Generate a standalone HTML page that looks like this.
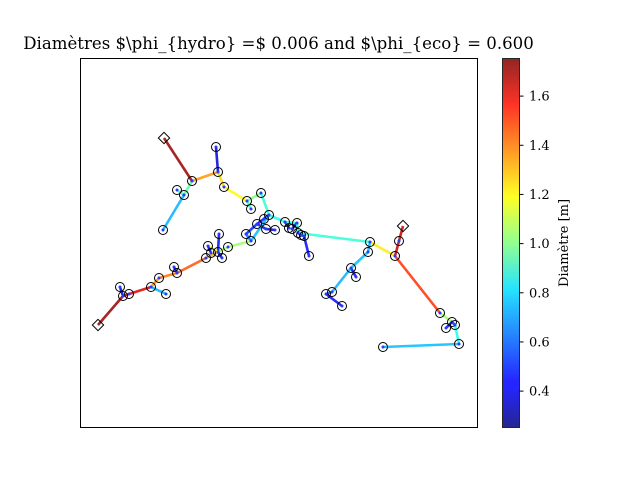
<!DOCTYPE html>
<html><head><meta charset="utf-8">
<style>
html,body{margin:0;padding:0;background:#fff;}
svg{display:block;font-family:"DejaVu Serif","Liberation Serif",serif;}
</style></head>
<body>
<svg id="chart" width="640" height="480" viewBox="0 0 640 480">
<defs>
<linearGradient id="jet" x1="0" y1="1" x2="0" y2="0">
<stop offset="0" stop-color="#00007f"/><stop offset="0.11" stop-color="#0000ff"/><stop offset="0.125" stop-color="#0000ff"/>
<stop offset="0.34" stop-color="#00c0ff"/><stop offset="0.375" stop-color="#00e0ff"/><stop offset="0.5" stop-color="#7fff7f"/>
<stop offset="0.625" stop-color="#ffff00"/><stop offset="0.66" stop-color="#ffe000"/><stop offset="0.875" stop-color="#ff1000"/><stop offset="1" stop-color="#7f0000"/>
</linearGradient>
</defs>
<text x="278.5" y="49" text-anchor="middle" font-size="16.6">Diamètres $\phi_{hydro} =$ 0.006 and $\phi_{eco} = 0.600</text>
<rect x="80.5" y="58.5" width="397" height="369" fill="none" stroke="#000" stroke-width="1"/>
<g id="edges"></g>
<g id="nodes"></g>
<rect x="502.5" y="58.5" width="17" height="369" fill="url(#jet)" stroke="#000" stroke-width="1" opacity="0.85"/>
<g id="cbticks"></g>
<text transform="translate(568,243) rotate(-90)" text-anchor="middle" font-size="13">Diamètre [m]</text>
</svg>
<script>
// node coordinates (data units: x right, y down, plot origin at top-left)
const nodeX = [84,18,323, 112,138,136,104,97,83, 144,167,171,181,189,184,205,209,217,212,218,221,224,229,
  177,186,195,166,171,148,139,138,142,128,131,126, 97,94,79,71,86,49,43,40,
  290,315,319,360,372,375,366,379,303, 288,271,276,252,246,262];
const nodeY = [80,267,168, 123,114,89,137,132,172, 129,143,151,135,157,161,164,170,165,171,175,177,178,198,
  166,171,172,176,183,189,176,194,200,188,195,200, 215,209,220,229,236,236,238,229,
  184,198,183,255,264,267,270,286,289, 194,210,219,234,236,248];
const nodeType = [1,1,1, 0,0,0,0,0,0, 0,0,0,0,0,0,0,0,0,0,0,0,0,0, 0,0,0,0,0,0,0,0,0,0,0,0, 0,0,0,0,0,0,0,0, 0,0,0,0,0,0,0,0,0, 0,0,0,0,0,0];
// edges: from node, to node, diameter [m]
const edgeFrom = [0,3,4,3,6,6,4,9,10,10,12,13,13,15,15,17,17,19,20,21,19,13,23,24,23,13,26,27,28,30,30,30,32,30,34,35,35,37,38,38,40,41,41, 43,52,53,53,55,56,43,2,45,44,46,47,47,48,50];
const edgeTo   = [3,4,5,6,7,8,9,10,11,12,13,14,15,16,17,18,19,20,21,22,43,23,24,25,26,27,27,28,30,29,31,32,33,34,35,36,37,38,39,40,41,42,1, 52,53,54,55,56,57,44,45,44,46,47,48,49,50,51];
const edgeDiam = [1.72,1.35,0.38,0.95,0.9,0.7,1.25,1.2,0.9,1.0,0.88,0.5,0.85,0.4,0.85,0.4,0.85,0.4,0.4,0.45,0.88,0.45,0.45,0.4,0.5,0.72,0.6,1.05,1.05,0.45,0.45,1.2,0.45,1.3,1.45,0.45,1.4,1.35,0.7,1.62,1.6,0.4,1.72, 0.72,0.72,0.45,0.7,0.6,0.45,1.22,1.65,1.65,1.5,1.05,0.5,0.45,0.85,0.72];
const cbTicks = [0.4,0.6,0.8,1.0,1.2,1.4,1.6];
const cbMin = 0.254, cbMax = 1.755;

const NS="http://www.w3.org/2000/svg";
const xs = v => 80 + v;
const ys = v => 58 + v;
const cbY = v => 427 - (v - cbMin) / (cbMax - cbMin) * 369;
function jet(v){
  let t=(v-cbMin)/(cbMax-cbMin); t=Math.max(0,Math.min(1,t));
  const c=x=>Math.round(255*Math.max(0,Math.min(1,x)));
  const r=c(Math.min(4*t-1.5,-4*t+4.5)), g=c(Math.min(4*t-0.5,-4*t+3.5)), b=c(Math.min(4*t+0.5,-4*t+2.5));
  return `rgb(${r},${g},${b})`;
}
const eg=document.getElementById('edges');
for(let i=0;i<edgeFrom.length;i++){
  const a=edgeFrom[i], b=edgeTo[i];
  const l=document.createElementNS(NS,'line');
  l.setAttribute('x1',xs(nodeX[a]));l.setAttribute('y1',ys(nodeY[a]));
  l.setAttribute('x2',xs(nodeX[b]));l.setAttribute('y2',ys(nodeY[b]));
  l.setAttribute('stroke',jet(edgeDiam[i]));l.setAttribute('stroke-width','2.6');l.setAttribute('stroke-opacity','0.85');
  
  
  eg.appendChild(l);
}
const ng=document.getElementById('nodes');
for(let i=0;i<nodeX.length;i++){
  const cx=xs(nodeX[i]), cy=ys(nodeY[i]);
  let m;
  if(nodeType[i]===1){
    m=document.createElementNS(NS,'rect');
    m.setAttribute('x',cx-4);m.setAttribute('y',cy-4);m.setAttribute('width',8);m.setAttribute('height',8);
    m.setAttribute('transform',`rotate(45 ${cx} ${cy})`);
    
  } else {
    const d=document.createElementNS(NS,'circle');
    d.setAttribute('cx',cx);d.setAttribute('cy',cy);d.setAttribute('r','1.5');d.setAttribute('fill','#2a3cff');
    
    
    ng.appendChild(d);
    m=document.createElementNS(NS,'circle');
    m.setAttribute('cx',cx);m.setAttribute('cy',cy);m.setAttribute('r','4.5');
    
  }
  m.setAttribute('fill','none');m.setAttribute('stroke','#000');m.setAttribute('stroke-width','1');
  
  ng.appendChild(m);
}
const tg=document.getElementById('cbticks');
cbTicks.forEach(v=>{
  const y=cbY(v);
  const l=document.createElementNS(NS,'line');
  l.setAttribute('x1',519.5);l.setAttribute('x2',523.5);l.setAttribute('y1',y);l.setAttribute('y2',y);l.setAttribute('stroke','#000');
  
  
  tg.appendChild(l);
  const t=document.createElementNS(NS,'text');
  t.setAttribute('x',529);t.setAttribute('y',y+4.5);t.setAttribute('font-size','13');
  t.textContent=v.toFixed(1);
  
  
  tg.appendChild(t);
});
</script>
</body></html>
